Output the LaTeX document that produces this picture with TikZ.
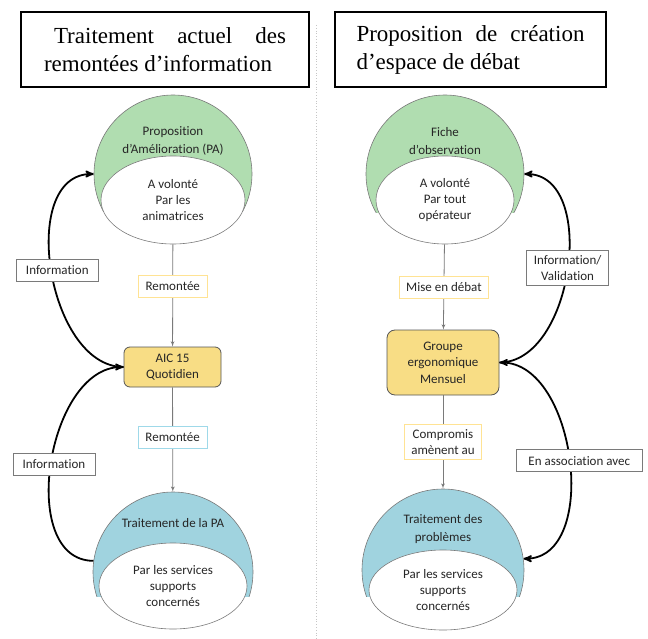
\documentclass[tikz,border=0pt]{standalone}
\usepackage{fontspec}
\setmainfont{Liberation Serif}
\newfontfamily\calibri[Ligatures={NoCommon,NoContextual}]{Carlito}
\usetikzlibrary{shapes}
\usetikzlibrary{arrows}
\usetikzlibrary{calc,positioning}
\definecolor{paGreen}{HTML}{B0DDB0}
\definecolor{tpBlue}{HTML}{A0D3DF}
\definecolor{aicYellow}{HTML}{F8DD85}
\definecolor{lblYellow}{HTML}{FFE394}
\definecolor{lblBlue}{HTML}{9FD9E9}
\definecolor{edgeGray}{HTML}{7A7A7A}
\definecolor{txtGray}{HTML}{262626}

\begin{document}
\begin{tikzpicture}[x=1pt, y=-1pt]
	\tikzstyle{titre}=[draw, line width=1.3pt, align=justify, font=\fontsize{23}{28}\selectfont, minimum height=75pt]
	\tikzstyle{outer}=[circle, draw=edgeGray, line width=0.6pt, inner sep=0pt]
	\tikzstyle{inner}=[ellipse, draw=edgeGray, fill=white, line width=0.6pt, inner sep=0pt, align=center, text=txtGray, font=\calibri\fontsize{13}{16}\selectfont]
	\tikzstyle{head}=[align=center, text=txtGray, font=\calibri\fontsize{13}{17.5}\selectfont]
	\tikzstyle{freq}=[draw=edgeGray!70!black, line width=0.8pt, rounded corners=6pt, fill=aicYellow, align=center, text=txtGray, font=\calibri\fontsize{13}{16.5}\selectfont]
	\tikzstyle{lbl}=[draw, fill=white, line width=0.7pt, align=center, inner xsep=7pt, inner ysep=5pt, minimum height=22pt, text=txtGray, font=\calibri\fontsize{13}{16}\selectfont]
	\tikzstyle{flow}=[draw=edgeGray, line width=0.8pt, -latex']
	\tikzstyle{info}=[line width=1.8pt, -stealth']

	\useasboundingbox (0,0) rectangle (648,639);

	% titres
	\node[titre, text width=242pt, inner xsep=23pt] (titreG) at (165,49.5) {\hspace*{10pt}Traitement actuel des \mbox{remontées} d’information};
	\node[titre, text width=228pt, inner xsep=21.5pt] (titreD) at (470.5,49.5) {Proposition de création \mbox{d’espace} de débat};
	\draw[dotted, draw=gray!45, line width=0.8pt] (316,25) -- (316,639);

	% colonne gauche
	\begin{scope}
		\clip (80,90) rectangle (270,212);
		\node[outer, fill=paGreen, minimum size=158pt] (pa) at (173,174) {};
	\end{scope}
	\node[head] (paTitre) at (173,141) {Proposition\\d’Amélioration (PA)};
	\node[inner, minimum width=144pt, minimum height=88pt] (paIn) at (173,200) {A volonté\\Par les\\animatrices};

	\node[freq, minimum width=97pt, minimum height=40pt] (aic) at (172.5,367) {AIC 15\\Quotidien};

	\begin{scope}
		\clip (80,485) rectangle (270,596);
		\node[outer, fill=tpBlue, minimum size=160pt] (tpa) at (173,572) {};
	\end{scope}
	\node[head] (tpaTitre) at (173,523) {Traitement de la PA};
	\node[inner, minimum width=148pt, minimum height=86pt] (tpaIn) at (173,586) {Par les services\\supports\\concernés};

	% colonne droite
	\begin{scope}
		\clip (350,90) rectangle (540,213);
		\node[outer, fill=paGreen, minimum size=158pt] (fiche) at (445,174) {};
	\end{scope}
	\node[head] (ficheTitre) at (445,141) {Fiche\\d’observation};
	\node[inner, minimum width=138pt, minimum height=88pt] (ficheIn) at (445,200) {A volonté\\Par tout\\opérateur};

	\node[freq, minimum width=112pt, minimum height=65pt, rounded corners=8pt] (groupe) at (443,362.5) {Groupe\\ergonomique\\Mensuel};

	\begin{scope}
		\clip (350,480) rectangle (540,596);
		\node[outer, fill=tpBlue, minimum size=162pt] (tdp) at (443,570) {};
	\end{scope}
	\node[head] (tdpTitre) at (443,529) {Traitement des\\problèmes};
	\node[inner, minimum width=148pt, minimum height=80pt] (tdpIn) at (443,590) {Par les services\\supports\\concernés};

	% remontees
	\draw[flow] (paIn) -- node[lbl, draw=lblYellow, pos=0.41] (remA) {Remontée} (aic);
	\draw[flow] (aic) -- node[lbl, draw=lblBlue, pos=0.48] (remB) {Remontée} (tpa);
	\draw[flow] (ficheIn) -- node[lbl, draw=lblYellow, pos=0.5] (debat) {Mise en débat} (groupe);
	\draw[flow] (groupe) -- node[lbl, draw=lblYellow, pos=0.5] (compromis) {Compromis\\amènent au} (tdp);

	% retours d'information
	\draw[info] (aic.west) to[out=180, in=180] node[lbl, draw=edgeGray, pos=0.5, xshift=6pt, minimum width=82pt] (infoA) {Information} (pa.west);
	\draw[info] (tpa.172) to[out=180, in=180] node[lbl, draw=edgeGray, pos=0.5, xshift=3pt, minimum width=82pt] (infoB) {Information} (aic.west);
	\draw[info] (groupe.east) to[out=0, in=0] node[lbl, draw=edgeGray, pos=0.5, minimum width=82pt] (infoVal) {Information/\\Validation} (fiche.east);
	\draw[info, stealth'-stealth'] (groupe.east) to[out=0, in=0] node[lbl, draw=edgeGray, pos=0.5, xshift=10pt, minimum width=126pt] (assoc) {En association avec} (tdp.8);
\end{tikzpicture}
\end{document}
